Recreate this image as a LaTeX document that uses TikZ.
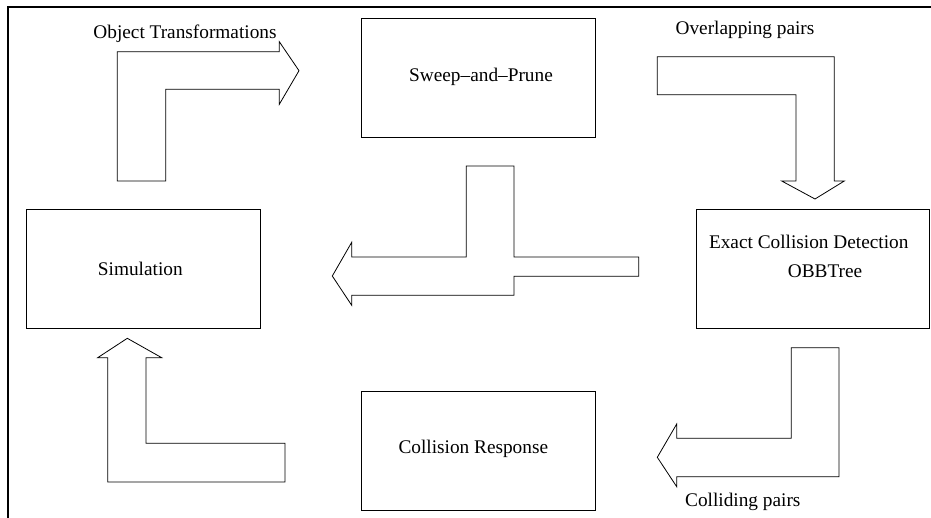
\documentclass[tikz,border=0pt]{standalone}
\usepackage{fontspec}
\setmainfont{Liberation Serif}

\begin{document}
\begin{tikzpicture}[x=1pt,y=-1pt,
    box/.style={draw, line width=0.8pt, minimum width=234pt, minimum height=119pt, inner sep=0pt},
    txt/.style={anchor=base, inner sep=0pt},
    blockarrow/.style={draw, line width=0.8pt, line join=miter}]
    \useasboundingbox (0,0) rectangle (931,518);
    \fontsize{19.3}{28}\selectfont
    % page frame
    \draw[line width=2.5pt] (8,518) -- (8,7) -- (931,7);

    \node[box] (sweep) at (478,77.8) {};
    \node[txt] (sweeptext) at (481,81.7) {Sweep--and--Prune};
    \node[box] (sim) at (143.8,269) {};
    \node[txt] (simtext) at (140.3,276) {Simulation};
    \node[box, minimum width=233pt] (exact) at (812.5,269) {};
    \node[txt] (exacttext) at (808.7,248.3) {Exact Collision Detection};
    \node[txt] (obbtext) at (825,277.3) {OBBTree};
    \node[box] (resp) at (478,451) {};
    \node[txt] (resptext) at (473.3,453.3) {Collision Response};

    % block arrows
    \draw[blockarrow] (117.3,181) -- (117.3,51.7) -- (279.3,51.7) -- (279.3,41.7)
        -- (299,70.7) -- (279.3,104.3) -- (279.3,89.3) -- (165.7,89.3) -- (165.7,181) -- cycle;
    \draw[blockarrow] (657.3,56.7) -- (834.3,56.7) -- (834.3,181) -- (844.3,181)
        -- (815,199) -- (781.7,181) -- (796,181) -- (796,94.7) -- (657.3,94.7) -- cycle;
    \draw[blockarrow] (332.3,276) -- (351.7,242.3) -- (351.7,257) -- (466.3,257)
        -- (466.3,166) -- (514,166) -- (514,257) -- (638.7,257) -- (638.7,276.3)
        -- (514,276.3) -- (514,295.3) -- (351.7,295.3) -- (351.7,305.3) -- cycle;
    \draw[blockarrow] (839,347.7) -- (839,476.7) -- (676.7,476.7) -- (676.7,486.7)
        -- (657.3,457.3) -- (676.7,424) -- (676.7,438.3) -- (791.3,438.3) -- (791.3,347.7) -- cycle;
    \draw[blockarrow] (285,482) -- (107.7,482) -- (107.7,357.7) -- (97.7,357.7)
        -- (127.3,338.3) -- (161.7,357.7) -- (146,357.7) -- (146,443.3) -- (285,443.3) -- cycle;

    \node[txt] (objtrans) at (185,38.3) {Object Transformations};
    \node[txt] (overlap) at (745,35) {Overlapping pairs};
    \node[txt] (colliding) at (742.8,506) {Colliding pairs};
\end{tikzpicture}
\end{document}
